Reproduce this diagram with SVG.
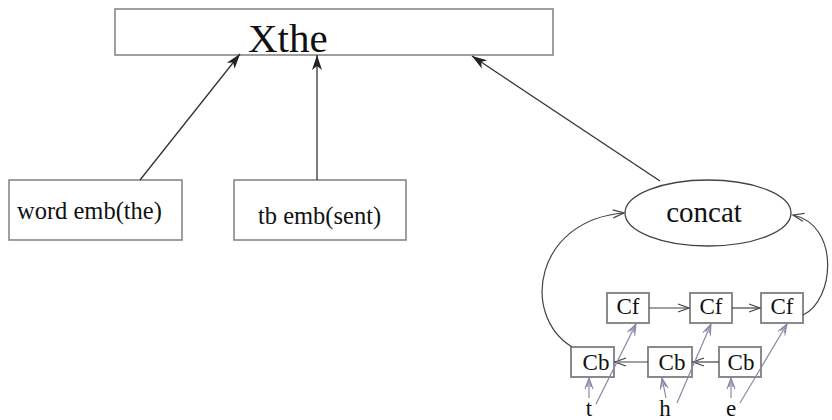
<svg xmlns="http://www.w3.org/2000/svg" width="832" height="420" viewBox="0 0 832 420">
<style>
  text { font-family: "Liberation Serif", "Times New Roman", serif; fill: #111; }
  .box { fill: #fff; stroke: #888; stroke-width: 1.6; }
  .sbox { fill: #fff; stroke: #8a8a8a; stroke-width: 2; }
  .main { fill: none; stroke: #333; stroke-width: 1.3; marker-end: url(#solid); }
  .chain { fill: none; stroke: #444; stroke-width: 1.2; marker-end: url(#open); }
  .in { fill: none; stroke: #8a88a8; stroke-width: 1.2; marker-end: url(#open2); }
</style>
<defs>
  <marker id="solid" markerUnits="userSpaceOnUse" markerWidth="16" markerHeight="10" refX="15" refY="5" orient="auto" overflow="visible">
    <path d="M0,0 L15,5 L0,10 L4,5 Z" fill="#222"/>
  </marker>
  <marker id="open" markerUnits="userSpaceOnUse" markerWidth="12" markerHeight="10" refX="11" refY="4" orient="auto" overflow="visible">
    <path d="M0,0 L11,4 L0,8" fill="none" stroke="#444" stroke-width="1.2"/>
  </marker>
  <marker id="open2" markerUnits="userSpaceOnUse" markerWidth="12" markerHeight="10" refX="11" refY="4" orient="auto" overflow="visible">
    <path d="M0,0 L11,4 L0,8 M2,2 L11,4 L2,6" fill="none" stroke="#8a88a8" stroke-width="1.1"/>
  </marker>
</defs>

<g id="xthe">
  <rect class="box" x="115" y="9" width="438" height="46"/>
  <text x="248" y="52" font-size="41">Xthe</text>
</g>
<g id="word-emb">
  <rect class="box" x="9" y="180" width="173" height="60"/>
  <text x="17" y="219" font-size="24.5">word emb(the)</text>
</g>
<g id="tb-emb">
  <rect class="box" x="234" y="180" width="172" height="60"/>
  <text x="258" y="224" font-size="24.5">tb emb(sent)</text>
</g>
<g id="concat">
  <ellipse cx="708" cy="213" rx="83" ry="33" fill="#fff" stroke="#444" stroke-width="1.3"/>
  <text x="704" y="222" font-size="29" text-anchor="middle">concat</text>
</g>
<g id="cf1"><rect class="sbox" x="607" y="293" width="42" height="30"/><text x="628" y="314" font-size="23" text-anchor="middle">Cf</text></g>
<g id="cf2"><rect class="sbox" x="690" y="293" width="42" height="30"/><text x="711" y="314" font-size="23" text-anchor="middle">Cf</text></g>
<g id="cf3"><rect class="sbox" x="761" y="293" width="42" height="30"/><text x="782" y="314" font-size="23" text-anchor="middle">Cf</text></g>
<g id="cb1"><rect class="sbox" x="571" y="347" width="43" height="30"/><text x="596" y="370" font-size="23" text-anchor="middle">Cb</text></g>
<g id="cb2"><rect class="sbox" x="648" y="347" width="44" height="30"/><text x="672" y="370" font-size="23" text-anchor="middle">Cb</text></g>
<g id="cb3"><rect class="sbox" x="719" y="347" width="42" height="30"/><text x="741" y="370" font-size="23" text-anchor="middle">Cb</text></g>
<g id="t"><text x="589" y="416" font-size="23" text-anchor="middle">t</text></g>
<g id="h"><text x="665" y="416" font-size="23" text-anchor="middle">h</text></g>
<g id="e"><text x="731" y="416" font-size="23" text-anchor="middle">e</text></g>

<g id="connectors">
  <line class="main" x1="140" y1="180" x2="240" y2="54"/>
  <line class="main" x1="317" y1="180" x2="317" y2="55"/>
  <line class="main" x1="660" y1="181" x2="472" y2="56"/>
  <path class="chain" d="M572,347 C520,315 535,220 624,213"/>
  <path class="chain" d="M803,315 C835,300 840,225 793,215"/>
  <line class="chain" x1="649" y1="308" x2="689" y2="308"/>
  <line class="chain" x1="732" y1="308" x2="760" y2="308"/>
  <line class="chain" x1="648" y1="362" x2="615" y2="362"/>
  <line class="chain" x1="719" y1="362" x2="693" y2="362"/>
  <line class="in" x1="596" y1="404" x2="636" y2="324"/>
  <line class="in" x1="677" y1="403" x2="711" y2="324"/>
  <line class="in" x1="740" y1="403" x2="787" y2="324"/>
  <line class="in" x1="589" y1="398" x2="589" y2="378"/>
  <line class="in" x1="666" y1="398" x2="662" y2="378"/>
  <line class="in" x1="731" y1="398" x2="731" y2="378"/>
</g>
</svg>
